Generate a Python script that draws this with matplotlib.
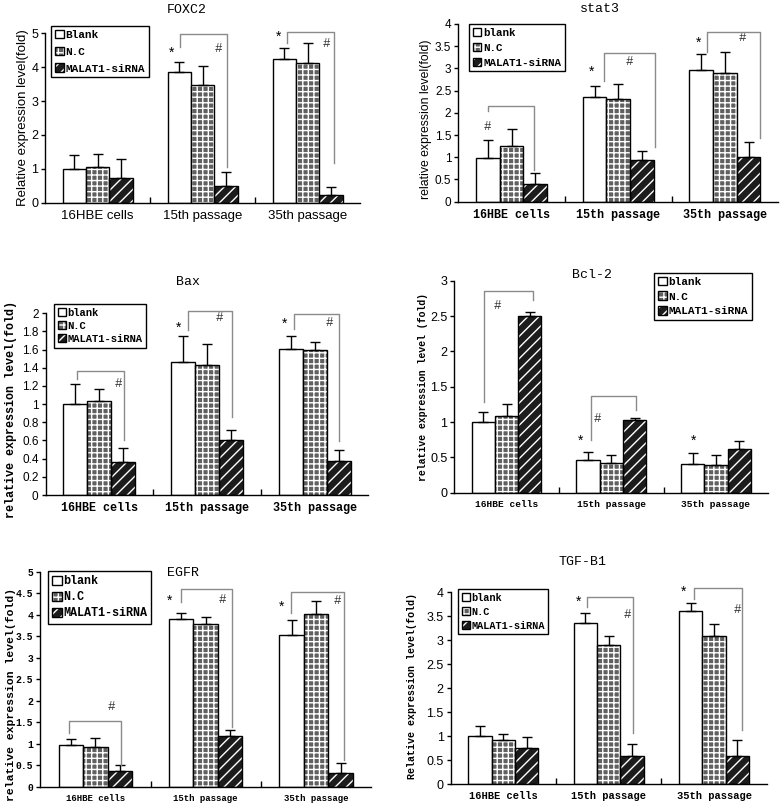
import matplotlib
matplotlib.use("Agg")
import matplotlib.pyplot as plt
import numpy as np

plt.rcParams['hatch.linewidth'] = 1.0

groups = ["16HBE cells", "15th passage", "35th passage"]
series = ["blank", "N.C", "MALAT1-siRNA"]

# mean values (blank, N.C, siRNA) for each group, and upper error
foxc2_blank = [1.0, 3.87, 4.25]
foxc2_nc = [1.05, 3.46, 4.12]
foxc2_si = [0.73, 0.5, 0.23]
foxc2_blank_err = [0.41, 0.27, 0.33]
foxc2_nc_err = [0.39, 0.57, 0.58]
foxc2_si_err = [0.56, 0.40, 0.24]

stat3_blank = [0.98, 2.36, 2.97]
stat3_nc = [1.25, 2.32, 2.89]
stat3_si = [0.40, 0.93, 1.0]
stat3_blank_err = [0.42, 0.25, 0.35]
stat3_nc_err = [0.38, 0.34, 0.49]
stat3_si_err = [0.24, 0.20, 0.34]

bax_blank = [1.0, 1.46, 1.61]
bax_nc = [1.03, 1.43, 1.60]
bax_si = [0.36, 0.61, 0.37]
bax_blank_err = [0.22, 0.29, 0.14]
bax_nc_err = [0.14, 0.23, 0.08]
bax_si_err = [0.16, 0.11, 0.13]

bcl2_blank = [1.0, 0.46, 0.41]
bcl2_nc = [1.08, 0.42, 0.39]
bcl2_si = [2.50, 1.03, 0.62]
bcl2_blank_err = [0.14, 0.12, 0.15]
bcl2_nc_err = [0.17, 0.11, 0.14]
bcl2_si_err = [0.06, 0.03, 0.11]

egfr_blank = [0.98, 3.89, 3.52]
egfr_nc = [0.93, 3.78, 4.02]
egfr_si = [0.36, 1.19, 0.33]
egfr_blank_err = [0.13, 0.14, 0.35]
egfr_nc_err = [0.21, 0.17, 0.31]
egfr_si_err = [0.14, 0.13, 0.21]

tgf_blank = [1.01, 3.37, 3.62]
tgf_nc = [0.92, 2.91, 3.10]
tgf_si = [0.76, 0.59, 0.59]
tgf_blank_err = [0.21, 0.19, 0.15]
tgf_nc_err = [0.13, 0.19, 0.23]
tgf_si_err = [0.23, 0.26, 0.33]

# significance marks: (x, y) in data units
foxc2_stars = [(0.70, 4.43), (1.72, 4.90)]
foxc2_hashes = [(1.15, 4.53), (2.18, 4.68)]
foxc2_brackets = [(0.784, 1.229, 4.98, 4.6, 1.06), (1.80, 2.254, 5.03, 4.7, 1.16)]

stat3_stars = [(0.75, 2.93), (1.75, 3.58)]
stat3_hashes = [(-0.23, 1.69), (1.10, 3.15), (2.16, 3.68)]
stat3_brackets = [(-0.22, 0.21, 2.15, 2.05, 0.71), (0.87, 1.34, 3.34, 2.72, 1.24),
                  (1.83, 2.33, 3.83, 3.38, 1.43)]

bax_stars = [(0.74, 1.84), (1.72, 1.88)]
bax_hashes = [(0.18, 1.22), (1.12, 1.95), (2.14, 1.89)]
bax_brackets = [(-0.21, 0.23, 1.37, 1.28, 0.60), (0.82, 1.235, 2.02, 1.82, 0.86),
                (1.81, 2.23, 1.99, 1.83, 0.59)]

bcl2_stars = [(0.71, 0.73), (1.79, 0.74)]
bcl2_hashes = [(-0.09, 2.64), (0.87, 1.04)]
bcl2_brackets = [(-0.22, 0.25, 2.85, 1.29, 2.73), (0.81, 1.24, 1.37, 0.75, 1.17)]

egfr_stars = [(0.67, 4.33), (1.69, 4.19)]
egfr_hashes = [(0.15, 1.86), (1.15, 4.34), (2.19, 4.32)]
egfr_brackets = [(-0.24, 0.23, 1.53, 1.24, 0.50), (0.78, 1.24, 4.59, 4.30, 1.40),
                 (1.77, 2.25, 4.53, 4.03, 0.62)]

tgf_stars = [(0.71, 3.80), (1.71, 4.01)]
tgf_hashes = [(1.18, 3.53), (2.22, 3.63)]
tgf_brackets = [(0.79, 1.23, 3.91, 3.70, 1.06), (1.81, 2.27, 4.08, 3.87, 1.13)]

W, H = 783, 808
fig = plt.figure(figsize=(W / 100, H / 100), dpi=100)

MONO = "Liberation Mono"
SANS = "Liberation Sans"


def wt(fam):
    return "bold" if fam == MONO else "normal"


def px_axes(left, right, y0, ytop):
    return fig.add_axes([left / W, 1 - y0 / H, (right - left) / W, (y0 - ytop) / H])


def panel(ax, blank, nc, si, errs, ymax, ystep, title, title_xy, ylabel, ylab_xy,
          leg_xy, leg_labels, stars, hashes, brackets, xfont, yfont, ylabfont,
          xtick_fs, ytick_fs, ylab_fs, leg_fs, leg_space=0.35):
    x = np.arange(3)
    w = 0.222
    b1 = ax.bar(x - w, blank, w, color="white", edgecolor="black", lw=1, zorder=2)
    b2f = ax.bar(x, nc, w, color="#606060", edgecolor="white", hatch="+++", lw=0, zorder=2)
    b2o = ax.bar(x, nc, w, fill=False, edgecolor="black", lw=1, zorder=3)
    b3f = ax.bar(x + w, si, w, color="#1c1c1c", edgecolor="white", hatch="///", lw=0, zorder=2)
    b3o = ax.bar(x + w, si, w, fill=False, edgecolor="black", lw=1, zorder=3)
    for xs, vals, e in zip([x - w, x, x + w], [blank, nc, si], errs):
        ax.errorbar(xs, vals, yerr=[np.zeros(3), e], fmt="none", ecolor="black",
                    elinewidth=1, capsize=3.5, capthick=1, zorder=4)
    ax.set_xlim(-0.5, 2.5)
    ax.set_ylim(0, ymax)
    ticks = np.round(np.arange(0, ymax + 1e-9, ystep), 2)
    ax.set_yticks(ticks)
    ax.set_yticklabels([f"{t:g}" for t in ticks], family=yfont, fontsize=ytick_fs,
                       weight=wt(yfont))
    ax.set_xticks(x)
    ax.set_xticklabels(groups, family=xfont, fontsize=xtick_fs, weight=wt(xfont))
    ax.set_xticks([0.5, 1.5], minor=True)
    ax.tick_params(axis="x", which="major", length=0, pad=5)
    ax.tick_params(axis="x", which="minor", length=4, direction="in", width=1)
    ax.tick_params(axis="y", length=3, width=1, pad=2)
    for s in ["top", "right"]:
        ax.spines[s].set_visible(False)
    ax.spines["left"].set_linewidth(1)
    ax.spines["bottom"].set_linewidth(1)
    ax.set_ylabel(ylabel, family=ylabfont, fontsize=ylab_fs, weight=wt(ylabfont))
    ax.yaxis.set_label_coords(*ylab_xy)
    fig.text(title_xy[0] / W, 1 - title_xy[1] / H, title, family=MONO, fontsize=9.5,
             ha="center", va="center")
    for sx, sy in stars:
        ax.text(sx, sy, "*", ha="center", va="center", fontsize=10, family=SANS, clip_on=False)
    for hx, hy in hashes:
        ax.text(hx, hy, "#", ha="center", va="center", fontsize=9, family=MONO,
                color="#333333", clip_on=False)
    for xl, xr, yt, yl, yr in brackets:
        ax.plot([xl, xl, xr, xr], [yl, yt, yt, yr], color="#8a8a8a", lw=1, clip_on=False, zorder=5)
    leg = ax.legend([b1, (b2f, b2o), (b3f, b3o)], leg_labels, loc="upper left",
                    bbox_to_anchor=(leg_xy[0] / W, 1 - leg_xy[1] / H),
                    bbox_transform=fig.transFigure, borderaxespad=0, frameon=True,
                    fancybox=False, edgecolor="black", framealpha=1,
                    prop={"family": MONO, "size": leg_fs, "weight": "bold"},
                    handlelength=0.8, handleheight=0.8, handletextpad=0.15,
                    labelspacing=leg_space, borderpad=0.35)
    leg.get_frame().set_linewidth(1)


ax1 = px_axes(45.2, 360.2, 202.7, 33.3)
panel(ax1, foxc2_blank, foxc2_nc, foxc2_si, [foxc2_blank_err, foxc2_nc_err, foxc2_si_err],
      5, 1, "FOXC2", (187, 10), "Relative expression level(fold)", (-0.052, 0.5),
      (51, 26), ["Blank", "N.C", "MALAT1-siRNA"], foxc2_stars, foxc2_hashes, foxc2_brackets,
      SANS, SANS, SANS, 9.5, 9, 9.5, 8.0, leg_space=0.6)

ax2 = px_axes(458.3, 778.3, 201.7, 24)
panel(ax2, stat3_blank, stat3_nc, stat3_si, [stat3_blank_err, stat3_nc_err, stat3_si_err],
      4, 0.5, "stat3", (600, 9), "relative expression level(fold)", (-0.082, 0.465),
      (469, 24), ["blank", "N.C", "MALAT1-siRNA"], stat3_stars, stat3_hashes, stat3_brackets,
      MONO, SANS, SANS, 8.5, 8.5, 8.8, 7.8, leg_space=0.45)

ax3 = px_axes(45.5, 368.5, 495, 313.3)
panel(ax3, bax_blank, bax_nc, bax_si, [bax_blank_err, bax_nc_err, bax_si_err],
      2, 0.2, "Bax", (188, 282), "relative expression level(fold)", (-0.088, 0.473),
      (54, 304), ["blank", "N.C", "MALAT1-siRNA"], bax_stars, bax_hashes, bax_brackets,
      MONO, SANS, MONO, 8.5, 8.5, 8.5, 7.6, leg_space=0.3)

ax4 = px_axes(454.3, 768.3, 492.7, 280.7)
panel(ax4, bcl2_blank, bcl2_nc, bcl2_si, [bcl2_blank_err, bcl2_nc_err, bcl2_si_err],
      3, 0.5, "Bcl-2", (592, 275), "relative expression level (fold)", (-0.084, 0.5),
      (654, 273), ["blank", "N.C", "MALAT1-siRNA"], bcl2_stars, bcl2_hashes, bcl2_brackets,
      MONO, SANS, MONO, 6.8, 9, 7.1, 8.0, leg_space=0.4)

ax5 = px_axes(40.2, 371.2, 786.7, 571.7)
panel(ax5, egfr_blank, egfr_nc, egfr_si, [egfr_blank_err, egfr_nc_err, egfr_si_err],
      5, 0.5, "EGFR", (183, 573), "relative expression level(fold)", (-0.073, 0.43),
      (48, 571), ["blank", "N.C", "MALAT1-siRNA"], egfr_stars, egfr_hashes, egfr_brackets,
      MONO, MONO, MONO, 6.5, 7, 8.2, 8.5, leg_space=0.35)

ax6 = px_axes(450.7, 766.7, 784.3, 592.3)
panel(ax6, tgf_blank, tgf_nc, tgf_si, [tgf_blank_err, tgf_nc_err, tgf_si_err],
      4, 0.5, "TGF-B1", (582, 562), "Relative expression level(fold)", (-0.108, 0.51),
      (458, 589), ["blank", "N.C", "MALAT1-siRNA"], tgf_stars, tgf_hashes, tgf_brackets,
      MONO, SANS, MONO, 7.5, 9, 7.2, 7.4, leg_space=0.4)

fig.savefig("out.png", dpi=100)
